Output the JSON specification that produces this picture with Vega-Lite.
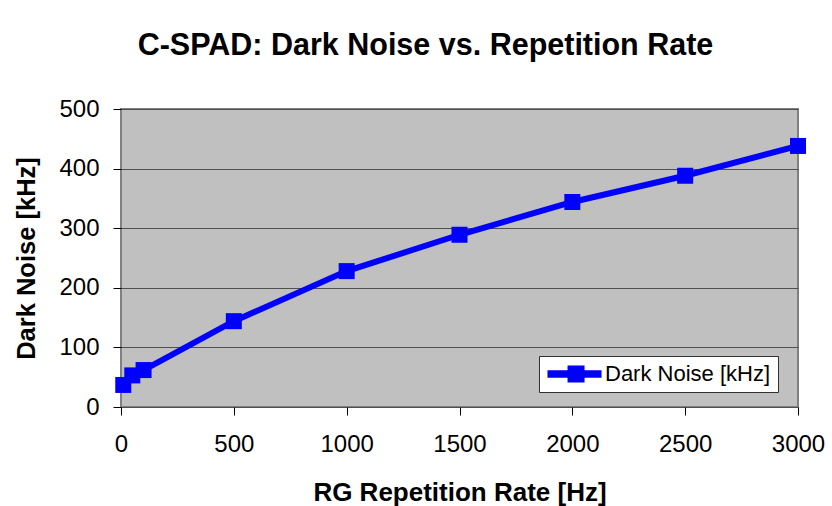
{
  "$schema": "https://vega.github.io/schema/vega-lite/v6.json",
  "width": 677,
  "height": 298,
  "autosize": {"type": "none"},
  "padding": {"left": 121, "top": 109, "right": 34, "bottom": 99},
  "background": "white",
  "title": {
    "text": "C-SPAD: Dark Noise vs. Repetition Rate",
    "font": "Liberation Sans",
    "fontSize": 30.5,
    "fontWeight": "bold",
    "color": "black",
    "anchor": "middle",
    "baseline": "alphabetic",
    "offset": 12,
    "dx": -34
  },
  "data": {
    "values": [
      {"rate": 10, "noise": 37, "series": "Dark Noise [kHz]"},
      {"rate": 50, "noise": 53, "series": "Dark Noise [kHz]"},
      {"rate": 100, "noise": 62, "series": "Dark Noise [kHz]"},
      {"rate": 500, "noise": 144, "series": "Dark Noise [kHz]"},
      {"rate": 1000, "noise": 228, "series": "Dark Noise [kHz]"},
      {"rate": 1500, "noise": 289, "series": "Dark Noise [kHz]"},
      {"rate": 2000, "noise": 344, "series": "Dark Noise [kHz]"},
      {"rate": 2500, "noise": 388, "series": "Dark Noise [kHz]"},
      {"rate": 3000, "noise": 438, "series": "Dark Noise [kHz]"}
    ]
  },
  "encoding": {
    "x": {
      "field": "rate",
      "type": "quantitative",
      "scale": {"domain": [0, 3000], "nice": false, "zero": true},
      "axis": {
        "title": "RG Repetition Rate [Hz]",
        "values": [0, 500, 1000, 1500, 2000, 2500, 3000],
        "format": "d",
        "labelFlush": false,
        "grid": false,
        "tickSize": 8,
        "tickColor": "black",
        "domain": false,
        "labelPadding": 17,
        "labelFont": "Liberation Sans",
        "labelFontSize": 24,
        "labelColor": "black",
        "titleFont": "Liberation Sans",
        "titleFontSize": 26,
        "titleFontWeight": "bold",
        "titleColor": "black",
        "titlePadding": 23
      }
    },
    "y": {
      "field": "noise",
      "type": "quantitative",
      "scale": {"domain": [0, 500], "nice": false},
      "axis": {
        "title": "Dark Noise [kHz]",
        "values": [0, 100, 200, 300, 400, 500],
        "labelFlush": false,
        "grid": true,
        "gridColor": "#505050",
        "gridWidth": 1,
        "tickSize": 8,
        "tickColor": "black",
        "domain": false,
        "labelPadding": 14,
        "labelFont": "Liberation Sans",
        "labelFontSize": 24,
        "labelColor": "black",
        "titleFont": "Liberation Sans",
        "titleFontSize": 25.5,
        "titleFontWeight": "bold",
        "titleColor": "black",
        "titlePadding": 19
      }
    },
    "color": {
      "field": "series",
      "type": "nominal",
      "scale": {"range": ["#0000FF"]},
      "legend": {
        "title": null,
        "orient": "none",
        "legendX": 418,
        "legendY": 247,
        "direction": "vertical",
        "fillColor": "white",
        "strokeColor": "#303030",
        "padding": 7,
        "labelFont": "Liberation Sans",
        "labelFontSize": 22,
        "labelLimit": 400,
        "labelColor": "black",
        "symbolType": "M-1.12,-0.45H1.24V-1H3.24V-0.45H5.24V0.45H3.24V1H1.24V0.45H-1.12Z",
        "symbolSize": 289,
        "symbolFillColor": "#0000FF",
        "symbolStrokeWidth": 0,
        "symbolOpacity": 1,
        "labelOffset": 37
      }
    }
  },
  "layer": [
    {
      "mark": {"type": "line", "strokeWidth": 6, "clip": false}
    },
    {
      "mark": {"type": "square", "size": 256, "filled": true, "opacity": 1, "clip": false}
    }
  ],
  "config": {
    "view": {"fill": "#C0C0C0", "stroke": "#808080", "strokeWidth": 2},
    "font": "Liberation Sans"
  }
}
